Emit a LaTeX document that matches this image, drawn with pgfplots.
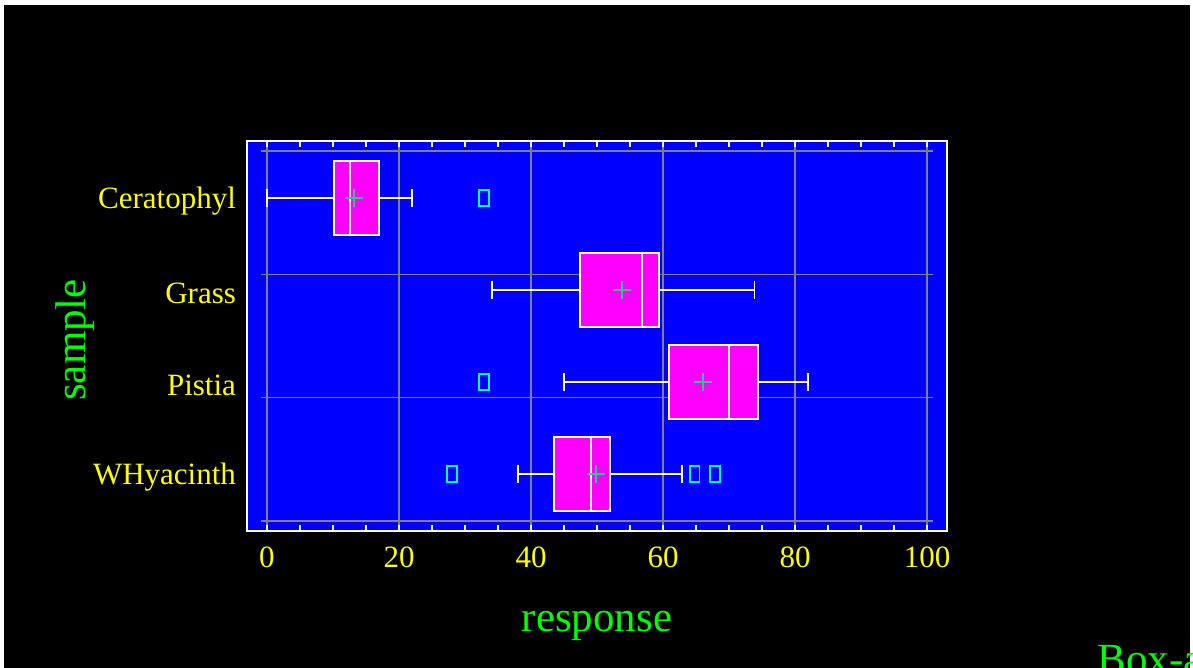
\documentclass[border=0pt]{standalone}
\usepackage{fontspec}
\setmainfont{Liberation Serif}
\usepackage{pgfplots}
\pgfplotsset{compat=1.18}
\usepgfplotslibrary{statistics}
\definecolor{meanc}{RGB}{40,200,140}
\definecolor{lblgreen}{RGB}{0,255,0}
\definecolor{lblyellow}{RGB}{255,255,0}
\definecolor{boxmag}{RGB}{255,0,255}
\definecolor{outcyan}{RGB}{0,255,255}
\definecolor{bgblue}{RGB}{0,0,255}
\begin{document}
\begin{tikzpicture}[x=1pt,y=1pt]
\useasboundingbox (0,0) rectangle (596.5,334);
\clip (0,0) rectangle (596.5,334);
\fill[white] (0,0) rectangle (596.5,334);
\fill[black] (2,0) rectangle (595,331.5);
\begin{axis}[
  at={(123.5pt,68.5pt)}, anchor=south west,
  scale only axis, width=350pt, height=195pt,
  xmin=-3.03, xmax=103.03, ymin=0.38, ymax=4.62, y dir=reverse,
  axis background/.style={fill=bgblue},
  axis line style={white, line width=0.75pt},
  xtick={0,20,...,100}, minor x tick num=3,
  ytick={1,2,3,4}, yticklabels={Ceratophyl,Grass,Pistia,WHyacinth},
  tick align=inside, major tick length=3pt, minor tick length=3pt,
  xtick style={white, line width=0.6pt},
  ytick style={draw=none},
  xmajorgrids, major grid style={gray, line width=0.8pt},
  /pgf/number format/assume math mode=true,
  ticklabel style={lblyellow, font=\fontsize{15.5}{18}\selectfont},
  xticklabel style={yshift=-4.5pt},
  yticklabel style={xshift=-2pt, yshift=-1.5pt},
  xlabel={response}, ylabel={sample},
  label style={lblgreen, font=\fontsize{21.5}{24}\selectfont},
  xlabel style={at={(axis description cs:0.5,-0.244)}, anchor=center},
  ylabel style={at={(axis description cs:-0.246,0.49)}, anchor=center},
  clip=false,
]
% horizontal reference lines
\addplot[gray, line width=0.8pt, forget plot] coordinates {(-0.9,0.49) (100.9,0.49)};
\addplot[gray, line width=0.8pt, forget plot] coordinates {(-0.9,1.83) (100.9,1.83)};
\addplot[gray, line width=0.8pt, forget plot] coordinates {(-0.9,3.17) (100.9,3.17)};
\addplot[gray, line width=0.8pt, forget plot] coordinates {(-0.9,4.51) (100.9,4.51)};
% boxes
\addplot[draw=white, fill=boxmag, line width=0.75pt, boxplot prepared={draw position=1,
  lower whisker=0, lower quartile=10.15, median=12.6, upper quartile=17.0, upper whisker=22.0,
  box extend=0.8, whisker extend=0.2}] coordinates {};
\addplot[draw=white, fill=boxmag, line width=0.75pt, boxplot prepared={draw position=2,
  lower whisker=34.1, lower quartile=47.4, median=56.8, upper quartile=59.4, upper whisker=73.9,
  box extend=0.8, whisker extend=0.2}] coordinates {};
\addplot[draw=white, fill=boxmag, line width=0.75pt, boxplot prepared={draw position=3,
  lower whisker=45.0, lower quartile=60.9, median=70.0, upper quartile=74.4, upper whisker=82.0,
  box extend=0.8, whisker extend=0.2}] coordinates {};
\addplot[draw=white, fill=boxmag, line width=0.75pt, boxplot prepared={draw position=4,
  lower whisker=38.0, lower quartile=43.5, median=49.1, upper quartile=52.0, upper whisker=62.9,
  box extend=0.8, whisker extend=0.2}] coordinates {};
% means
\addplot[only marks, mark=+, mark size=4.5pt, mark options={meanc, line width=0.9pt}]
  coordinates {(13.2,1) (53.8,2) (66.1,3) (49.8,4)};
% outliers
\addplot[only marks, mark=square, mark size=4pt, mark options={outcyan, xscale=0.62, line width=0.8pt}]
  coordinates {(32.9,1) (32.9,3) (28.0,4) (64.8,4) (67.9,4)};
\end{axis}
\node[anchor=base west, lblgreen, font=\fontsize{21.5}{24}\selectfont, inner sep=0pt] at (548.5,-3) {Box-and-Whisker Plot};
\end{tikzpicture}
\end{document}
